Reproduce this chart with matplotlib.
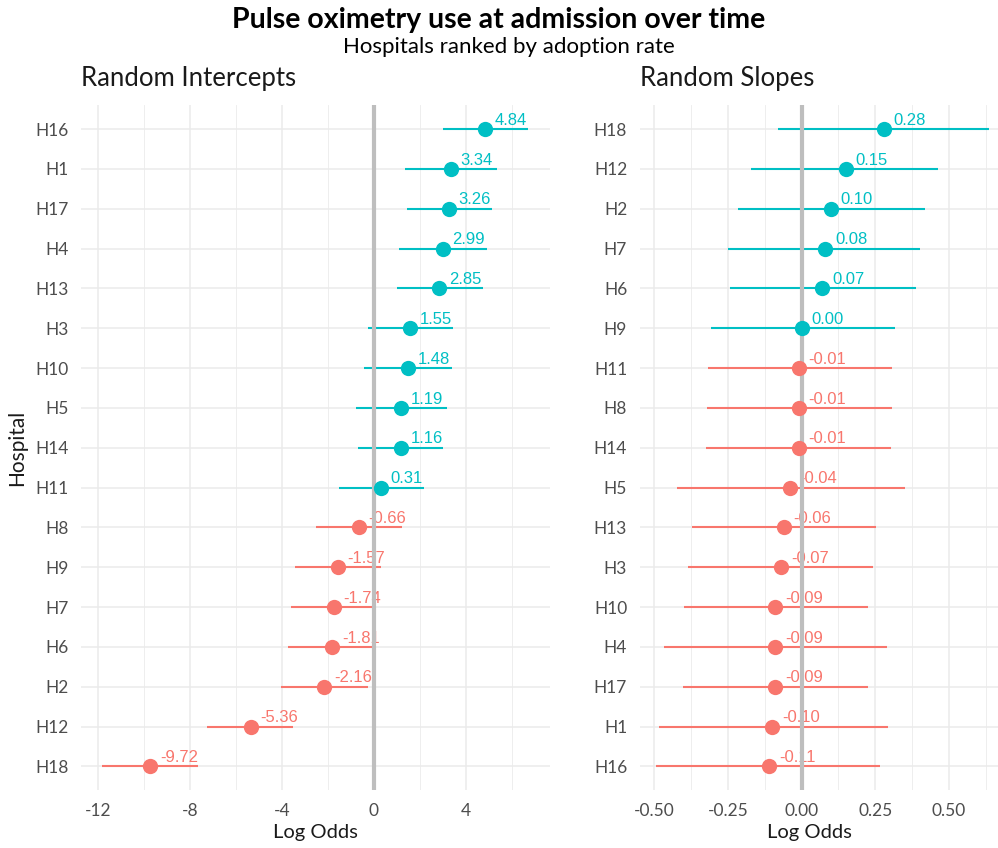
import matplotlib; matplotlib.use("Agg")
import matplotlib.pyplot as plt
from matplotlib.ticker import MultipleLocator

TEAL = "#00BFC4"; SALMON = "#F8766D"; GRID = "#EBEBEB"; ZERO = "#BEBEBE"; INK = "#1a1a1a"; TICK = "#4d4d4d"
UI = "Lato"; NUM = "Liberation Sans"

# random intercepts, top to bottom
int_hosp = ["H16", "H1", "H17", "H4", "H13", "H3", "H10", "H5", "H14", "H11", "H8", "H9", "H7", "H6", "H2", "H12", "H18"]
int_est = [4.84, 3.34, 3.26, 2.99, 2.85, 1.55, 1.48, 1.19, 1.16, 0.31, -0.66, -1.57, -1.74, -1.81, -2.16, -5.36, -9.72]
int_lo = [2.99, 1.36, 1.43, 1.09, 1.01, -0.27, -0.42, -0.78, -0.68, -1.52, -2.52, -3.43, -3.61, -3.72, -4.04, -7.26, -11.84]
int_hi = [6.71, 5.35, 5.13, 4.90, 4.73, 3.42, 3.40, 3.17, 2.99, 2.17, 1.20, 0.29, 0.11, -0.07, -0.27, -3.53, -7.65]

# random slopes, top to bottom
slp_hosp = ["H18", "H12", "H2", "H7", "H6", "H9", "H11", "H8", "H14", "H5", "H13", "H3", "H10", "H4", "H17", "H1", "H16"]
slp_est = [0.28, 0.15, 0.10, 0.08, 0.07, 0.00, -0.01, -0.01, -0.01, -0.04, -0.06, -0.07, -0.09, -0.09, -0.09, -0.10, -0.11]
slp_lo = [-0.079, -0.173, -0.217, -0.249, -0.244, -0.309, -0.319, -0.323, -0.325, -0.422, -0.374, -0.386, -0.401, -0.466, -0.403, -0.483, -0.493]
slp_hi = [0.637, 0.464, 0.420, 0.401, 0.388, 0.317, 0.308, 0.306, 0.305, 0.352, 0.253, 0.241, 0.227, 0.291, 0.224, 0.293, 0.267]

fig = plt.figure(figsize=(9.98, 8.48), dpi=100)
axL = fig.add_axes([0.081, 0.068, 0.470, 0.808])
axR = fig.add_axes([0.641, 0.068, 0.359, 0.808])

def panel(ax, hosp, est, lo, hi, xlim, ticks, minor, fmt):
    n = len(hosp)
    ys = list(range(n, 0, -1))
    for y, e, a, b in zip(ys, est, lo, hi):
        c = TEAL if e >= 0 else SALMON
        ax.plot([a, b], [y, y], color=c, lw=1.5, zorder=2.5, solid_capstyle="butt")
        ax.plot(e, y, "o", ms=11, color=c, mec="none", zorder=4)
        ax.annotate(f"{e:.2f}", (e, y), xytext=(7, 1), textcoords="offset points",
                    ha="left", va="bottom", fontsize=12, color=c, family=NUM, zorder=2)
    ax.axvline(0, color=ZERO, lw=3, zorder=3)
    ax.set_xlim(*xlim); ax.set_ylim(0.4, n + 0.6)
    ax.set_yticks(ys); ax.set_yticklabels(hosp, family=UI, fontsize=12.5, color=TICK)
    ax.set_xticks(ticks); ax.set_xticklabels([fmt(t) for t in ticks], family=UI, fontsize=12.5, color=TICK)
    ax.xaxis.set_minor_locator(MultipleLocator(minor))
    ax.tick_params(axis="both", length=0, which="both", pad=9)
    ax.grid(True, which="major", color=GRID, lw=1.1, zorder=0)
    ax.grid(True, which="minor", axis="x", color=GRID, lw=0.6, zorder=0)
    ax.set_axisbelow(True)
    for s in ax.spines.values():
        s.set_visible(False)
    ax.set_xlabel("Log Odds", family=UI, fontsize=14.5, color=INK, labelpad=4)

panel(axL, int_hosp, int_est, int_lo, int_hi, (-12.74, 7.65), [-12, -8, -4, 0, 4], 2, lambda v: f"{v:.0f}")
panel(axR, slp_hosp, slp_est, slp_lo, slp_hi, (-0.55, 0.667), [-0.5, -0.25, 0, 0.25, 0.5], 0.125, lambda v: f"{v:.2f}")
axR.xaxis.label.set_x(0.475)

axL.set_ylabel("Hospital", family=UI, fontsize=15, color=INK, labelpad=6)

fig.text(0.50, 0.976, "Pulse oximetry use at admission over time", ha="center", va="center",
         family=UI, fontweight="bold", fontsize=20.5, color="black")
fig.text(0.51, 0.944, "Hospitals ranked by adoption rate", ha="center", va="center",
         family=UI, fontsize=16, color="black")
fig.text(0.081, 0.908, "Random Intercepts", ha="left", va="center", family=UI, fontsize=18.5, color=INK)
fig.text(0.641, 0.908, "Random Slopes", ha="left", va="center", family=UI, fontsize=18.5, color=INK)

fig.savefig("out.png", dpi=100, facecolor="white")
